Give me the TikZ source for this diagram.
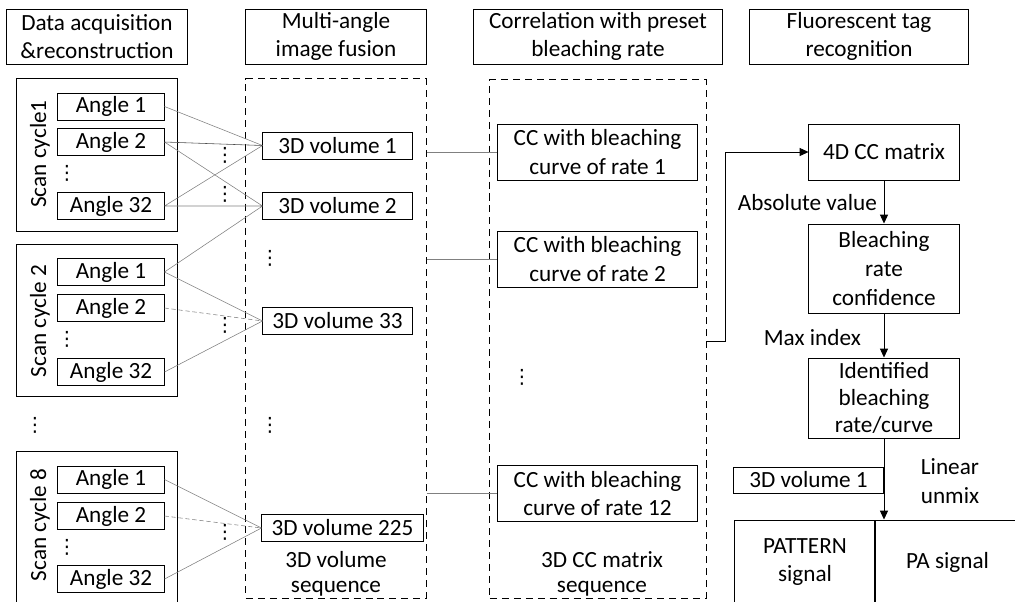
\documentclass[tikz,border=0pt]{standalone}
\usepackage{fontspec}
\setmainfont{Carlito}
\newfontfamily\dotfont{DejaVu Sans}
\usetikzlibrary{arrows.meta}

\begin{document}
\begin{tikzpicture}[
x=0.025cm, y=-0.025cm, line width=0.7pt,
font=\fontsize{16.5}{20.5}\selectfont,
headbox/.style={draw, align=center, inner sep=0pt, minimum height=1.375cm},
scanbox/.style={draw, minimum width=4cm, minimum height=3.8cm},
anglebox/.style={draw, inner sep=0pt, minimum width=2.65cm, minimum height=0.675cm},
volbox/.style={draw, inner sep=0pt, minimum width=3.725cm, minimum height=0.675cm},
dashbox/.style={draw, dash pattern=on 5pt off 3.5pt},
ccbox/.style={draw, align=center, inner sep=0pt, minimum width=4.975cm, minimum height=1.4cm},
tagbox/.style={draw, align=center, inner sep=0pt, minimum width=3.75cm},
seqtext/.style={align=center, inner sep=0pt, font=\fontsize{16.5}{18}\selectfont},
dotnode/.style={inner sep=0pt, font=\dotfont\fontsize{14}{14}\selectfont},
link/.style={gray, line width=0.4pt},
linkdash/.style={link, dash pattern=on 3pt off 2pt},
arr/.style={-{Triangle[length=2.2mm,width=2mm]}, line width=0.5pt}
]
  \useasboundingbox (0,0) rectangle (1015,601);
  \clip (0,0) rectangle (1015,601);

  \node[headbox, minimum width=4.5cm] (h1) at (97,36.5) {Data acquisition\\\&reconstruction};
  \node[headbox, minimum width=4.5cm] (h2) at (336,36.5) {Multi-angle\\image fusion};
  \node[headbox, minimum width=6.2cm] (h3) at (598,36.5) {Correlation with preset\\bleaching rate};
  \node[headbox, minimum width=5.45cm] (h4) at (859,36.5) {Fluorescent tag\\recognition};

  \node[scanbox] (s1) at (97,155) {};
  \node[scanbox] (s2) at (97,320.5) {};
  \node[scanbox] (s8) at (97,528) {};
  \node[rotate=90] (s1lab) at (40,154) {Scan cycle1};
  \node[rotate=90] (s2lab) at (40,321) {Scan cycle 2};
  \node[rotate=90] (s8lab) at (40,525) {Scan cycle 8};
  \node[dotnode] (sdots) at (35,425) {⋮};

  \node[anglebox] (a11) at (111,106.5) {Angle 1};
  \node[anglebox] (a12) at (111,142) {Angle 2};
  \node[dotnode] (a1d) at (67,173) {⋮};
  \node[anglebox] (a132) at (111,206) {Angle 32};

  \node[anglebox] (a21) at (111,272) {Angle 1};
  \node[anglebox] (a22) at (111,308) {Angle 2};
  \node[dotnode] (a2d) at (67,339) {⋮};
  \node[anglebox] (a232) at (111,372) {Angle 32};

  \node[anglebox] (a81) at (111,479.5) {Angle 1};
  \node[anglebox] (a82) at (111,516) {Angle 2};
  \node[dotnode] (a8d) at (67,547) {⋮};
  \node[anglebox] (a832) at (111,579) {Angle 32};

  \node[dashbox, minimum width=4.5cm, minimum height=12.975cm] (fuse) at (336,338.5) {};
  \node[volbox] (v1) at (337.5,145.5) {3D volume 1};
  \node[volbox] (v2) at (337.5,206) {3D volume 2};
  \node[dotnode] (vd1) at (270,258) {⋮};
  \node[volbox] (v33) at (337.5,321) {3D volume 33};
  \node[dotnode] (vd2) at (270,425) {⋮};
  \node[volbox, minimum width=4.025cm] (v225) at (342.5,528) {3D volume 225};
  \node[seqtext] (vseq) at (336,574) {3D volume\\sequence};

  \node[dotnode] (g1) at (225,155) {⋮};
  \node[dotnode] (g2) at (225,194) {⋮};
  \node[dotnode] (g3) at (225,325) {⋮};
  \node[dotnode] (g4) at (225,532) {⋮};

  \node[dashbox, minimum width=5.4cm, minimum height=12.95cm] (corr) at (598,339) {};
  \node[ccbox] (cc1) at (597.5,152) {CC with bleaching\\curve of rate 1};
  \node[ccbox] (cc2) at (597.5,259) {CC with bleaching\\curve of rate 2};
  \node[dotnode] (ccd) at (522,377) {⋮};
  \node[ccbox] (cc12) at (597.5,493.5) {CC with bleaching\\curve of rate 12};
  \node[seqtext] (ccseq) at (602,574) {3D CC matrix\\sequence};

  \node[tagbox, minimum height=1.4cm] (m4d) at (884,152) {4D CC matrix};
  \node[tagbox, minimum height=2.225cm] (conf) at (884,268.5) {Bleaching\\rate\\confidence};
  \node[tagbox, minimum height=2cm, font=\fontsize{16.5}{19.5}\selectfont] (ident) at (884,398) {Identified\\bleaching\\rate/curve};
  \node[volbox, minimum height=0.65cm] (vref) at (808.5,480) {3D volume 1};
  \node[draw, align=center, minimum width=3.5cm, minimum height=2.1cm] (pat) at (805,562) {PATTERN\\signal};
  \node[draw, minimum width=3.625cm, minimum height=2.1cm] (pa) at (947.5,562) {PA signal};

  \node[anchor=east] (absv) at (882,203) {Absolute value};
  \node[anchor=east] (maxi) at (866,338) {Max index};
  \node[align=center] (linu) at (950,481) {Linear\\unmix};

  \draw[link] (a11.east) -- (v1.west)
        (a132.east) -- (v1.west)
        (a12.east) -- (v2.west)
        (a132.east) -- (v2.west)
        (a21.east) -- (v2.west)
        (a21.east) -- (v33.west)
        (a232.east) -- (v33.west)
        (a81.east) -- (v225.west)
        (a832.east) -- (v225.west);
  \draw[link, black!70] (a12.east) -- (v1.west);
  \draw[linkdash] (a22.east) -- (v33.west)
        (a82.east) -- (v225.west);

  \draw[link] (fuse.east |- cc1.west) -- (cc1.west)
        (fuse.east |- cc2.west) -- (cc2.west)
        (fuse.east |- cc12.west) -- (cc12.west);

  \draw[arr] (corr.east) ++(0,2) -- ++(19,0) |- (m4d.west);
  \draw[arr] (m4d) -- (conf);
  \draw[arr] (conf) -- (ident);
  \draw[arr] (ident) -- (ident.south |- pa.north);
\end{tikzpicture}
\end{document}
